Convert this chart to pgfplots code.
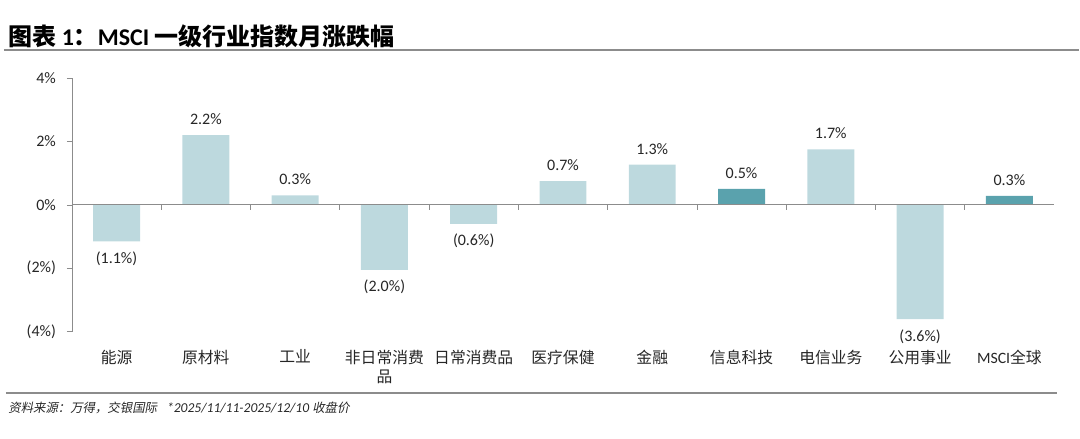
\documentclass[border=0pt]{standalone}
\usepackage{fontspec}
\setmainfont{Carlito}
\newfontfamily\cjk{Noto Sans CJK SC}
\newfontfamily\cjkit[FakeSlant=0.2]{Noto Sans CJK SC}
\usepackage{pgfplots}
\usepackage{pgfplotstable}
\pgfplotsset{compat=1.18}

\definecolor{barlight}{HTML}{BDD9DE}
\definecolor{bardark}{HTML}{5AA2AD}
\definecolor{axisgray}{HTML}{8C8C8C}
\definecolor{txt}{HTML}{262626}

% light bars, positive
\pgfplotstableread{
x y lab
1 2.2 2.2\%
2 0.3 0.3\%
5 0.75 0.7\%
6 1.27 1.3\%
8 1.75 1.7\%
}\lightpos
% light bars, negative
\pgfplotstableread{
x y lab
0 -1.15 (1.1\%)
3 -2.05 (2.0\%)
4 -0.6 (0.6\%)
9 -3.6 (3.6\%)
}\lightneg
% dark bars
\pgfplotstableread{
x y lab
7 0.5 0.5\%
10 0.28 0.3\%
}\darkbars

\begin{document}
\begin{tikzpicture}
\path (0pt,0pt) rectangle (540pt,219.5pt);
% title
\node[anchor=west,inner sep=0,font=\fontsize{12}{14}\selectfont\bfseries,text=black] at (4pt,201.5pt)
  {{\cjk\bfseries 图表}~1{\cjk\bfseries ：}MSCI~{\cjk\bfseries 一级行业指数月涨跌幅}};
\draw[axisgray,line width=1pt] (2pt,194.5pt) -- (540pt,194.5pt);
% footnote
\draw[axisgray,line width=1pt] (3pt,23pt) -- (529pt,23pt);
\node[anchor=west,inner sep=0,font=\fontsize{6.8}{8}\selectfont,text=txt] at (4pt,15.5pt)
  {{\cjkit\fontsize{6.2}{8}\selectfont 资料来源：万得，交银国际}\hspace{5pt}\textit{*2025/11/11-2025/12/10}~{\cjkit\fontsize{6.2}{8}\selectfont 收盘价}};

\begin{axis}[
  at={(36pt,53.5pt)}, anchor=south west,
  scale only axis, width=491.5pt, height=127pt,
  xmin=-0.5, xmax=10.5, ymin=-4, ymax=4,
  axis y line=left, axis x line=bottom,
  axis line style={axisgray,-},
  x axis line style={draw=none},
  major x tick style={draw=none},
  ytick={-4,-2,0,2,4},
  yticklabels={(4\%),(2\%),0\%,2\%,4\%},
  major y tick style={axisgray},
  tick align=outside, major tick length=2.5pt,
  xtick={0,...,10},
  xticklabels={{\cjk 能源},{\cjk 原材料},{\cjk 工业},{\cjk 非日常消费}\\{\cjk 品},{\cjk 日常消费品},{\cjk 医疗保健},{\cjk 金融},{\cjk 信息科技},{\cjk 电信业务},{\cjk 公用事业},MSCI{\cjk 全球}},
  xticklabel style={align=center,font=\fontsize{7.9}{9.5}\selectfont,text=txt,yshift=-3pt},
  yticklabel style={font=\fontsize{8}{9}\selectfont,text=txt,xshift=-2pt},
  ybar, bar width=23.5pt,
  nodes near coords,
  point meta=explicit symbolic,
  every node near coord/.append style={font=\fontsize{8}{9}\selectfont,text=txt,inner ysep=5pt},
  clip=false,
]
\addplot[fill=barlight,draw=none,bar shift=0pt] table[x=x,y=y,meta=lab] {\lightpos};
\addplot[fill=barlight,draw=none,bar shift=0pt,
  every node near coord/.append style={anchor=north}] table[x=x,y=y,meta=lab] {\lightneg};
\addplot[fill=bardark,draw=none,bar shift=0pt] table[x=x,y=y,meta=lab] {\darkbars};
\draw[axisgray] (axis cs:-0.5,0) -- (axis cs:10.5,0);
\pgfplotsinvokeforeach{0.5,1.5,...,9.5}{\draw[axisgray] (axis cs:#1,0) -- ++(0pt,-2.5pt);}
\end{axis}
\end{tikzpicture}
\end{document}
